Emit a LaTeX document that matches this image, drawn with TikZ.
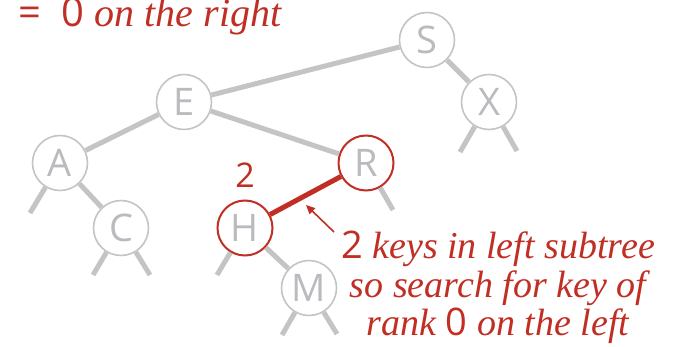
\documentclass[tikz,border=0pt]{standalone}
\usepackage{fontspec}
\setmainfont{Liberation Serif}
\newfontfamily\keyfont{Open Sans}
\usetikzlibrary{arrows.meta}

\definecolor{treegray}{RGB}{196,196,199}
\definecolor{keygray}{RGB}{186,186,191}
\definecolor{rankred}{RGB}{192,46,36}

\newcommand{\kd}[1]{{\keyfont\upshape #1}}

\begin{document}
\begin{tikzpicture}[
  x=1pt,y=-1pt,
  >={Triangle[length=9pt,width=8pt]},
  knode/.style={circle,draw=treegray,fill=white,line width=1.6pt,minimum size=55pt,
                inner sep=0pt,text=keygray,font=\keyfont\fontsize{38}{38}\selectfont},
  hitnode/.style={knode,draw=rankred,line width=2pt},
  link/.style={draw=treegray,line width=5pt},
  hot/.style={draw=rankred,line width=5pt},
  pointer/.style={->,draw=rankred,fill=rankred,line width=1.6pt},
  note/.style={text=rankred,font=\itshape\fontsize{38}{38.5}\selectfont,align=center,inner sep=0pt},
]
\useasboundingbox (0,0) rectangle (687,347);

%% ---------------------------------------------------------------- caption
\node[note,anchor=base west,font=\itshape\fontsize{40}{40}\selectfont] (top) at (18,27)
  {\kd{=\ \ 0} on the right};

%% ------------------------------------------------------------------- tree
\node[knode]   (S) at (427,40)  {S};
\node[knode]   (E) at (184,102) {E};
\node[knode]   (X) at (489,102) {X};
\node[knode]   (A) at (60,163)  {A};
\node[hitnode] (R) at (366,163) {R};
\node[knode]   (C) at (121,228) {C};
\node[hitnode] (H) at (245,228) {H};
\node[knode]   (M) at (309,288) {M};

%% links
\draw[link] (S) -- (E);
\draw[link] (S) -- (X);
\draw[link] (E) -- (A);
\draw[link] (E) -- (R);
\draw[link] (A) -- (C);
\draw[link] (H) -- (M);
\draw[hot]  (H) -- (R);

%% null links
\foreach \nd/\dx/\dy in {X/-29/50,X/28/49,A/-30/50,C/-28/47,C/29/47,R/27/47,H/-28/47,M/-27/47,M/28/46}{
  \draw[link] (\nd) -- ++(\dx,\dy);
}

%% ------------------------------------------------------------ annotation
\node[text=rankred,font=\keyfont\fontsize{34}{34}\selectfont,anchor=base] (cnt) at (245,188) {2};

\node[note,anchor=north] (expl) at (498,231)
  {\kd{2} keys in left subtree\\
   so search for key of\\
   rank \kd{0} on the left};

\coordinate (tail) at (334,232);
\coordinate (tip)  at (306,205);
\draw[pointer] (tail) -- (tip);

\end{tikzpicture}
\end{document}
